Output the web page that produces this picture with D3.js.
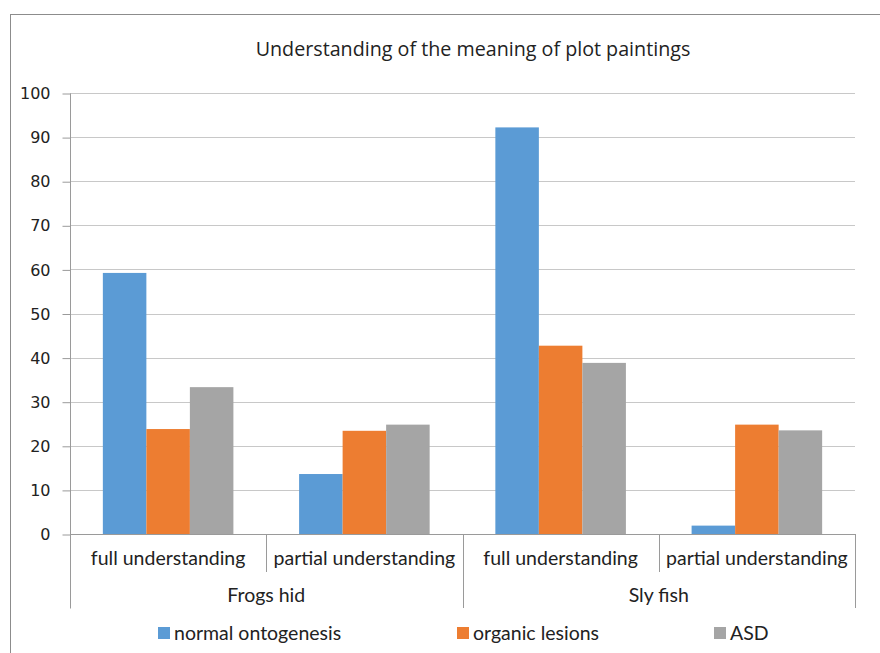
<!DOCTYPE html>
<html><head><meta charset="utf-8">
<script src="https://cdn.jsdelivr.net/npm/d3@7"></script>
<style>body{margin:0;background:#fff}svg{display:block}</style>
</head><body><svg id="c" width="880" height="653"></svg>
<script>
const groups = ["Frogs hid", "Sly fish"];
const subcats = ["full understanding", "partial understanding"];
const seriesNames = ["normal ontogenesis", "organic lesions", "ASD"];
const colors = ["#5B9BD5", "#ED7D31", "#A5A5A5"];
const normalOntogenesis = [59.2, 13.6, 92.2, 1.9];
const organicLesions = [23.8, 23.4, 42.7, 24.8];
const asd = [33.3, 24.8, 38.8, 23.5];
const yTicks = [0, 10, 20, 30, 40, 50, 60, 70, 80, 90, 100];
const title = "Understanding of the meaning of plot paintings";

const seriesVals = [normalOntogenesis, organicLesions, asd];
const cats = [];
groups.forEach(g => subcats.forEach(s => cats.push(g + "|" + s)));

const svg = d3.select("#c");
const L = 70, R = 855, T = 93, B = 534;
const labelFont = "Lato, 'Open Sans', sans-serif";
const labelSize = 19.5;

svg.append("rect").attr("x", 10.5).attr("y", 14.5).attr("width", 900).attr("height", 700)
  .attr("fill", "#fff").attr("stroke", "#8c8c8c").attr("stroke-width", 1);

svg.append("text").attr("x", 473).attr("y", 56).attr("text-anchor", "middle")
  .attr("font-family", "'Open Sans', sans-serif").attr("font-size", 19.7).attr("fill", "#222")
  .text(title);

const y = d3.scaleLinear().domain([0, 100]).range([B, T]);
const x0 = d3.scaleBand().domain(cats).range([L, R]).paddingInner(0).paddingOuter(0);
const x1 = d3.scaleBand().domain(seriesNames).range([0, x0.bandwidth()]).paddingInner(0).paddingOuter(0.755);

// gridlines
svg.append("g").selectAll("line").data(yTicks.filter(t => t > 0)).join("line")
  .attr("x1", L).attr("x2", R).attr("y1", d => Math.round(y(d)) + 0.5).attr("y2", d => Math.round(y(d)) + 0.5)
  .attr("stroke", "#c8c8c8").attr("stroke-width", 1);

// y axis
const yAxis = d3.axisLeft(y).tickValues(yTicks).tickSize(8).tickPadding(12);
const ga = svg.append("g").attr("transform", `translate(${L + 0.5},0.5)`).call(yAxis);
ga.select(".domain").attr("stroke", "#9a9a9a").attr("d", `M0,${T}V${608}`);
ga.selectAll(".tick line").attr("stroke", "#9a9a9a");
ga.selectAll(".tick text").attr("font-family", "'DejaVu Sans', sans-serif").attr("font-size", 16).attr("fill", "#222");

// bars
seriesVals.forEach((vals, si) => {
  svg.append("g").selectAll("rect").data(vals).join("rect")
    .attr("x", (d, i) => x0(cats[i]) + x1(seriesNames[si]))
    .attr("width", x1.bandwidth())
    .attr("y", d => y(d)).attr("height", d => y(0) - y(d))
    .attr("fill", colors[si]);
});

// x axis baseline
svg.append("line").attr("x1", L).attr("x2", R).attr("y1", B + 0.5).attr("y2", B + 0.5)
  .attr("stroke", "#9a9a9a");

// category dividers
const bounds = cats.map(c => x0(c)).concat([R]);
bounds.forEach((bx, i) => {
  const long = (i % 2 === 0);
  svg.append("line").attr("x1", Math.round(bx) + 0.5).attr("x2", Math.round(bx) + 0.5)
    .attr("y1", B).attr("y2", long ? 608 : 572).attr("stroke", "#9a9a9a");
});

// sub category labels
svg.append("g").selectAll("text").data(cats).join("text")
  .attr("x", d => x0(d) + x0.bandwidth() / 2).attr("y", 565).attr("text-anchor", "middle")
  .attr("font-family", labelFont).attr("font-size", labelSize).attr("fill", "#222")
  .text(d => d.split("|")[1]);

// group labels
const xg = d3.scaleBand().domain(groups).range([L, R]);
svg.append("g").selectAll("text").data(groups).join("text")
  .attr("x", d => xg(d) + xg.bandwidth() / 2).attr("y", 602).attr("text-anchor", "middle")
  .attr("font-family", labelFont).attr("font-size", labelSize).attr("fill", "#222")
  .text(d => d);

// legend
const legX = [158, 457, 714];
const lg = svg.append("g").selectAll("g").data(seriesNames).join("g")
  .attr("transform", (d, i) => `translate(${legX[i]},627)`);
lg.append("rect").attr("width", 12).attr("height", 12).attr("fill", (d, i) => colors[i]);
lg.append("text").attr("x", 16).attr("y", 12.5)
  .attr("font-family", labelFont).attr("font-size", labelSize).attr("fill", "#222").text(d => d);
</script></body></html>
